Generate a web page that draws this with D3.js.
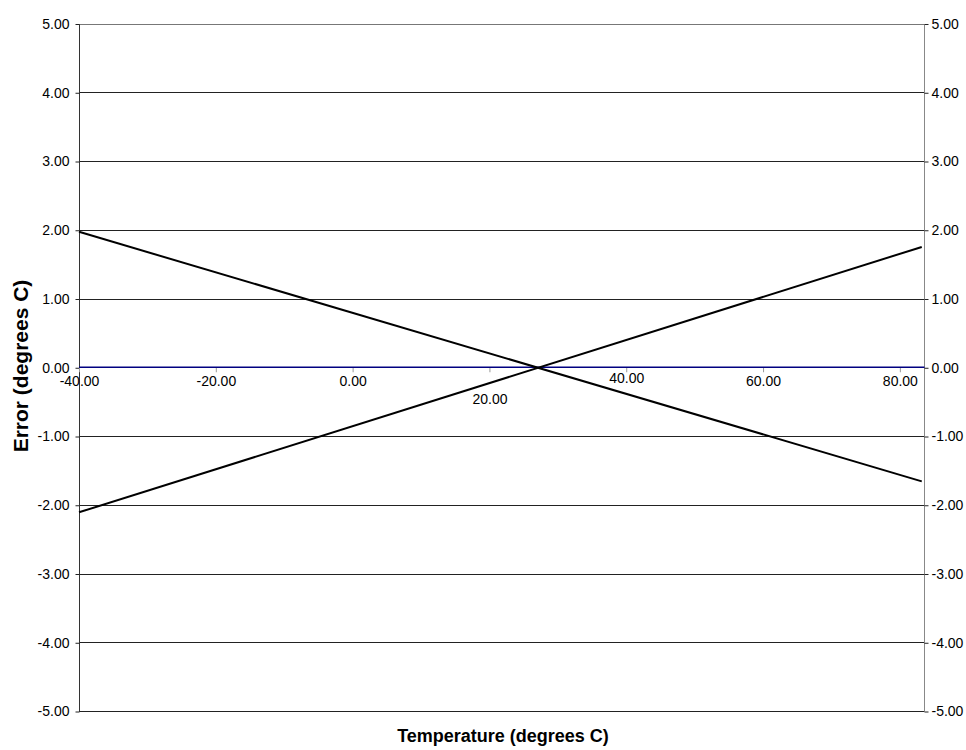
<!DOCTYPE html>
<html>
<head>
<meta charset="utf-8">
<script src="https://cdn.jsdelivr.net/npm/d3@7"></script>
<style>
  body { margin: 0; background: #fff; }
  svg { display: block; font-family: "Liberation Sans", Arial, sans-serif; }
</style>
</head>
<body>
<svg width="966" height="750"></svg>
<script>
// values
var temps = [-40, 83.2];
var errorFalling = [1.97, -1.66];
var errorRising = [-2.11, 1.75];
var zeroLine = [0, 0];
var xTicks = [-40, -20, 0, 20, 40, 60, 80];
var yTicks = [-5, -4, -3, -2, -1, 0, 1, 2, 3, 4, 5];

var svg = d3.select('svg');
var margin = { top: 23.5, bottom: 39, left: 79, right: 41.5 };
var width = 966, height = 750;
var fmt = d => d.toFixed(2); // plain hyphen for negatives

var x = d3.scaleLinear()
    .domain([-40, 83.6])
    .range([margin.left, width - margin.right]);

var y = d3.scaleLinear()
    .domain([-5, 5])
    .range([height - margin.bottom, margin.top]);

// horizontal gridlines
svg.append('g')
    .selectAll('line')
    .data(yTicks)
    .enter().append('line')
    .attr('x1', x.range()[0])
    .attr('x2', x.range()[1])
    .attr('y1', d => Math.round(y(d)) + 0.5)
    .attr('y2', d => Math.round(y(d)) + 0.5)
    .attr('stroke', d => d === 5 ? '#777' : '#222')
    .attr('stroke-width', 1);

// left axis
var leftAxis = svg.append('g')
    .attr('transform', 'translate(' + [margin.left + 0.5, 0.5] + ')')
    .call(d3.axisLeft(y).tickValues(yTicks).tickFormat(fmt).tickSize(4).tickPadding(6));
leftAxis.select('.domain').attr('stroke', '#333');

// right axis
var rightAxis = svg.append('g')
    .attr('transform', 'translate(' + [width - margin.right, 0.5] + ')')
    .call(d3.axisRight(y).tickValues(yTicks).tickFormat(fmt).tickSize(4).tickPadding(3));
rightAxis.select('.domain').attr('stroke', '#888');

[leftAxis, rightAxis].forEach(function (g) {
    g.selectAll('.tick line').attr('stroke', '#222');
    g.selectAll('.tick text').attr('fill', '#000').style('font-size', '14px');
    g.select('.domain').attr('d', function () {
        return d3.select(this).attr('d').replace(/M[-\d.]+,/, 'M0,').replace(/H[-\d.]+/g, 'H0');
    });
});

// x axis crossing at zero
var xAxis = svg.append('g')
    .attr('transform', 'translate(' + [0, y(0)] + ')')
    .call(d3.axisBottom(x).tickValues(xTicks).tickFormat(fmt).tickSize(5).tickPadding(4));
xAxis.select('.domain').remove();
xAxis.selectAll('.tick line').attr('stroke', '#999');
xAxis.selectAll('.tick text')
    .attr('fill', '#000')
    .style('font-size', '14px')
    .attr('dy', d => d === 20 ? '1.95em' : (d === 40 ? '0.5em' : '0.71em'));

// series
var line = d3.line()
    .x((d, i) => x(temps[i]))
    .y(d => y(d));

svg.append('path')
    .datum(zeroLine)
    .attr('d', d3.line().x((d, i) => x.range()[i]).y(d => y(d)))
    .attr('fill', 'none')
    .attr('stroke', '#000080')
    .attr('stroke-width', 1.6);

[errorFalling, errorRising].forEach(function (s) {
    svg.append('path')
        .datum(s)
        .attr('d', line)
        .attr('fill', 'none')
        .attr('stroke', '#000')
        .attr('stroke-width', 2);
});

// axis titles
svg.append('text')
    .attr('x', 503)
    .attr('y', 742)
    .attr('text-anchor', 'middle')
    .style('font-size', '18px')
    .style('font-weight', 'bold')
    .text('Temperature (degrees C)');

svg.append('text')
    .attr('transform', 'translate(' + [28, 366] + ') rotate(-90)')
    .attr('text-anchor', 'middle')
    .style('font-size', '21px')
    .style('font-weight', 'bold')
    .text('Error (degrees C)');
</script>
</body>
</html>
